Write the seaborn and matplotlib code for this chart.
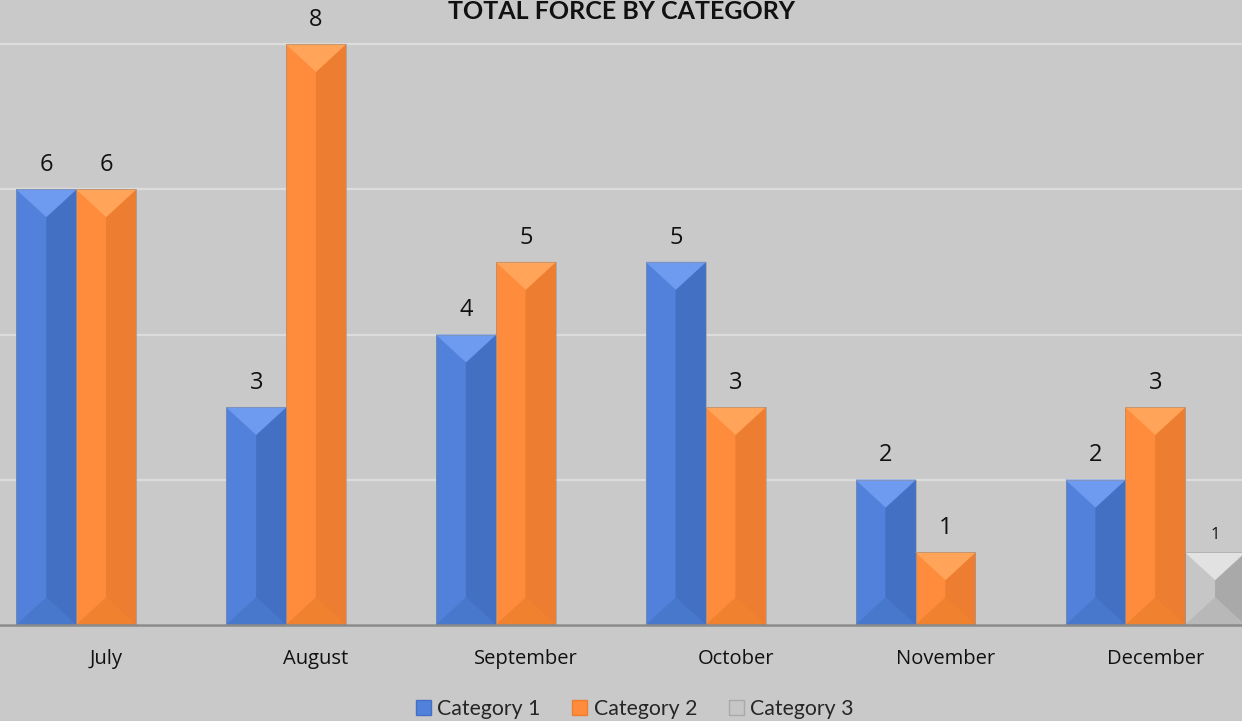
import numpy as np
import pandas as pd
import matplotlib
matplotlib.use("Agg")
import matplotlib.pyplot as plt
from matplotlib.patches import Polygon
import seaborn as sns

months = ["July", "August", "September", "October", "November", "December"]
category_1 = [6, 3, 4, 5, 2, 2]
category_2 = [6, 8, 5, 3, 1, 3]
category_3 = [np.nan, np.nan, np.nan, np.nan, np.nan, 1]
series_names = ["Category 1", "Category 2", "Category 3"]
title_text = "TOTAL FORCE BY CATEGORY"

rows = []
for name, vals in zip(series_names, [category_1, category_2, category_3]):
    for m, v in zip(months, vals):
        if not np.isnan(v):
            rows.append({"Month": m, "Series": name, "Value": v})
df = pd.DataFrame(rows)

sns.set_theme(style="white")
plt.rcParams["font.family"] = ["Lato", "DejaVu Sans"]

BG = "#C9C9C9"
# face colours: left, right, top, bottom
faces = {
    "Category 1": ("#5181DA", "#4470C4", "#6E9BF0", "#4878CC"),
    "Category 2": ("#FF8C3C", "#EC7D31", "#FFA458", "#F0822F"),
    "Category 3": ("#C6C6C6", "#A9A9A9", "#E2E2E2", "#B8B8B8"),
}
palette = {k: v[0] for k, v in faces.items()}

fig = plt.figure(figsize=(12.42, 7.21), dpi=100, facecolor=BG)
ax = fig.add_axes([0, 96 / 721, 1, 625 / 721])
ax.set_facecolor(BG)

sns.barplot(data=df, x="Month", y="Value", hue="Series", order=months,
            hue_order=series_names, palette=palette, width=0.855,
            saturation=1, ax=ax, legend=False, linewidth=0)

ax.set_xlim(-0.506, 5.413)
ax.set_ylim(0, 625 / 72.6)
ax.set_yticks([0, 2, 4, 6, 8])
ax.set_yticklabels([])
ax.grid(axis="y", color="#DCDCDC", linewidth=1.6)
ax.set_axisbelow(True)
for s in ["top", "right", "left"]:
    ax.spines[s].set_visible(False)
ax.spines["bottom"].set_color("#8A8A8A")
ax.spines["bottom"].set_linewidth(1.8)
ax.spines["bottom"].set_zorder(5)
ax.tick_params(axis="x", length=0, pad=17.5, labelsize=14.5, labelcolor="#111111")
ax.tick_params(axis="y", length=0)
for lbl in ax.get_xticklabels():
    lbl.set_fontfamily(["Open Sans", "DejaVu Sans"])
ax.set_xlabel("")
ax.set_ylabel("")

fig.canvas.draw()
# bevel faces derived from each drawn bar
px_per_x = ax.transData.transform((1, 0))[0] - ax.transData.transform((0, 0))[0]
px_per_y = ax.transData.transform((0, 1))[1] - ax.transData.transform((0, 0))[1]
for cont, name in zip(ax.containers, series_names):
    for bar in cont:
        h = bar.get_height()
        if h is None or np.isnan(h) or h <= 0:
            continue
        x0, w = bar.get_x(), bar.get_width()
        xc = x0 + w / 2
        d = (w / 2) * px_per_x / px_per_y * 0.92
        left, right, top, bottom = faces[name]
        bar.set_edgecolor("none")
        polys = [
            ([(x0 + w, h), (x0 + w, 0), (xc, d), (xc, h - d)], right),
            ([(x0, h), (x0 + w, h), (xc, h - d)], top),
            ([(x0, 0), (x0 + w, 0), (xc, d)], bottom),
        ]
        for pts, col in polys:
            ax.add_patch(Polygon(pts, closed=True, facecolor=col, edgecolor=col,
                                 linewidth=0.3, zorder=bar.get_zorder() + 0.1))
        ax.add_patch(Polygon([(x0, 0), (x0, h), (x0 + w, h), (x0 + w, 0)], closed=True,
                             facecolor="none", edgecolor="#8F8F8F", linewidth=0.6,
                             alpha=0.6, zorder=bar.get_zorder() + 0.2))
        big = name != "Category 3"
        ax.annotate(f"{int(h)}", (xc, h), xytext=(0, 9 if big else 7),
                    textcoords="offset points", ha="center", va="bottom",
                    fontsize=17 if big else 12, color="#111111",
                    fontfamily=["Open Sans", "DejaVu Sans"], zorder=10)

fig.text(0.5, 1 - 19 / 721, title_text, ha="center", va="baseline",
         fontsize=18, fontweight="bold", color="#111111")

handles = [plt.Rectangle((0, 0), 1, 1, facecolor=faces[n][0], edgecolor=faces[n][1],
                         linewidth=1) for n in series_names]
fig.legend(handles, series_names, loc="center", bbox_to_anchor=(0.511, 1 - 709 / 721),
           ncol=3, frameon=False, fontsize=15.3, handlelength=0.7, handleheight=0.7,
           handletextpad=0.3, columnspacing=1.5)

fig.savefig("out.png", dpi=100, facecolor=BG)
